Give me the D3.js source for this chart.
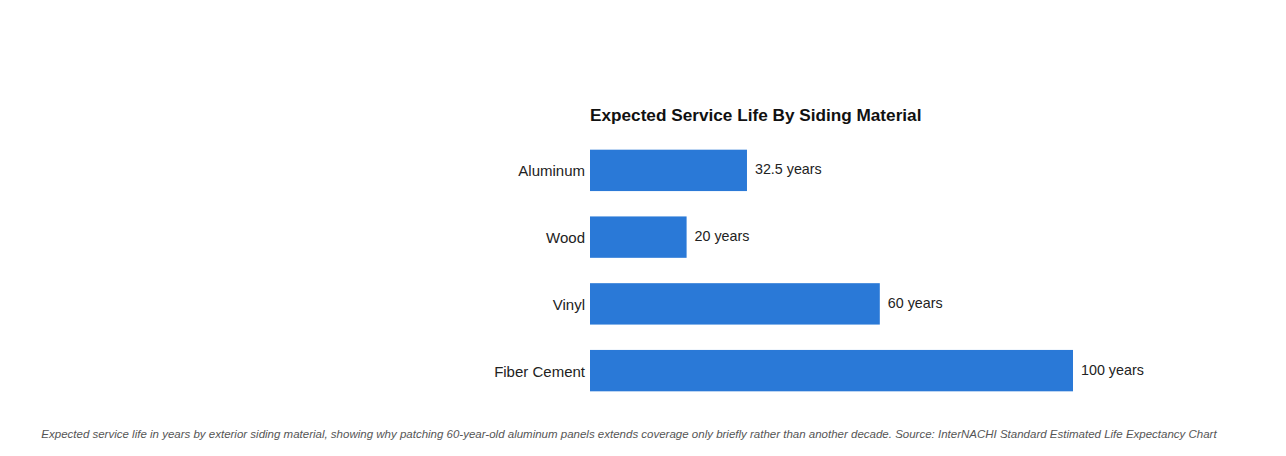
<!DOCTYPE html>
<html>
<head>
<meta charset="utf-8">
<script src="https://cdn.jsdelivr.net/npm/d3@7"></script>
<style>
  body { margin: 0; background: #fff; }
  text { font-family: "Liberation Sans", Arial, sans-serif; }
</style>
</head>
<body>
<script>
// data
var materials = ["Aluminum", "Wood", "Vinyl", "Fiber Cement"];
var lifeYears = [32.5, 20, 60, 100];
var valueLabels = ["32.5 years", "20 years", "60 years", "100 years"];

var width = 1286, height = 456;

var svg = d3.select("body").append("svg")
            .attr("width", width)
            .attr("height", height);

var x = d3.scaleLinear()
          .domain([0, 100])
          .range([590, 1073]);

var y = d3.scaleBand()
          .domain(materials)
          .range([137, 404])
          .paddingInner(0.38)
          .paddingOuter(0.19);

// title
svg.append("text")
   .attr("x", 590)
   .attr("y", 121)
   .attr("font-size", 17.2)
   .attr("font-weight", "bold")
   .attr("fill", "#111")
   .text("Expected Service Life By Siding Material");

// bars
svg.selectAll("rect.bar")
   .data(materials)
   .enter()
   .append("rect")
   .attr("class", "bar")
   .attr("x", x(0))
   .attr("y", function (d) { return y(d); })
   .attr("width", function (d, i) { return x(lifeYears[i]) - x(0); })
   .attr("height", y.bandwidth())
   .attr("fill", "#2a79d7");

// category labels
svg.selectAll("text.cat")
   .data(materials)
   .enter()
   .append("text")
   .attr("class", "cat")
   .attr("x", x(0) - 5)
   .attr("y", function (d) { return y(d) + y.bandwidth() / 2 + 6; })
   .attr("text-anchor", "end")
   .attr("font-size", 15)
   .attr("fill", "#222")
   .text(function (d) { return d; });

// value labels
svg.selectAll("text.val")
   .data(materials)
   .enter()
   .append("text")
   .attr("class", "val")
   .attr("x", function (d, i) { return x(lifeYears[i]) + 8; })
   .attr("y", function (d) { return y(d) + y.bandwidth() / 2 + 4; })
   .attr("font-size", 14.3)
   .attr("fill", "#222")
   .text(function (d, i) { return valueLabels[i]; });

// caption
svg.append("text")
   .attr("x", 629)
   .attr("y", 438)
   .attr("text-anchor", "middle")
   .attr("font-size", 11.5)
   .attr("font-style", "italic")
   .attr("fill", "#555")
   .text("Expected service life in years by exterior siding material, showing why patching 60-year-old aluminum panels extends coverage only briefly rather than another decade. Source: InterNACHI Standard Estimated Life Expectancy Chart");
</script>
</body>
</html>
